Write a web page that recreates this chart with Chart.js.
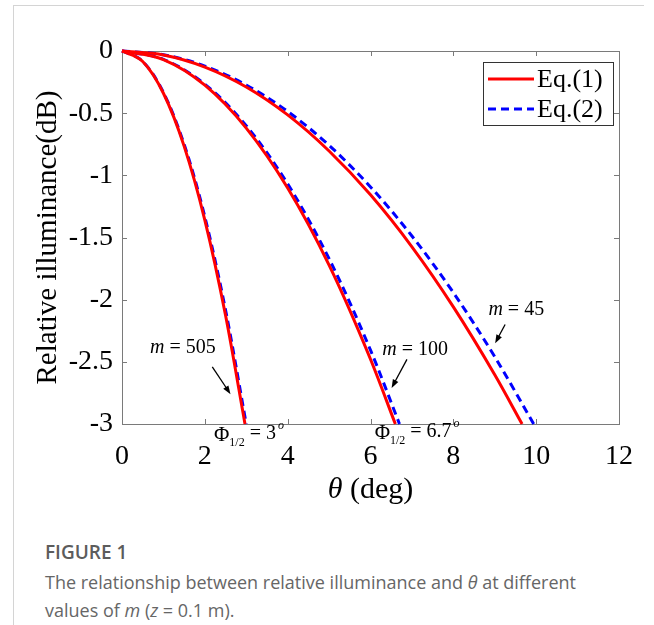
<!DOCTYPE html>
<html>
<head>
<meta charset="utf-8">
<script src="https://cdn.jsdelivr.net/npm/chart.js@4.4.1/dist/chart.umd.min.js"></script>
<style>
  html, body { margin: 0; padding: 0; background: #fff; }
  #wrap { position: relative; width: 654px; height: 625px; overflow: hidden; }
  #frame { position: absolute; left: 13px; top: 5px; width: 630px; height: 640px;
           border-left: 1px solid #d4d4d4; border-top: 1px solid #d4d4d4; }
  #chart { position: absolute; left: 0; top: 0; }
  .fig { position: absolute; left: 45px; top: 540px; font: 600 19px/24px 'Open Sans', sans-serif; color: #5c5c5c; }
  .cap { position: absolute; left: 45px; top: 568px; font: 400 18px/28px 'Open Sans', sans-serif; color: #666; }
</style>
</head>
<body>
<div id="wrap">
  <div id="frame"></div>
  <canvas id="chart" width="654" height="520"></canvas>
  <div class="fig">FIGURE 1</div>
  <div class="cap">The relationship between relative illuminance and <i>θ</i> at different<br>values of <i>m</i> (<i>z</i> = 0.1 m).</div>
</div>
<script>
// series names (legend)
const seriesNames = ['Eq.(1)', 'Eq.(2)'];
const seriesColors = ['#ff0000', '#0000ff'];

// m = 505
const theta505Eq1 = [0, 0.5, 1, 1.5, 2, 2.5, 2.97];
const loss505Eq1 = [0, -0.085, -0.340, -0.765, -1.360, -2.126, -3];
const theta505Eq2 = [0, 0.5, 1, 1.5, 2, 2.5, 3.0];
const loss505Eq2 = [0, -0.083, -0.333, -0.750, -1.333, -2.083, -3];

// m = 100
const theta100Eq1 = [0, 1, 2, 3, 4, 5, 6, 6.6];
const loss100Eq1 = [0, -0.069, -0.275, -0.620, -1.102, -1.722, -2.479, -3];
const theta100Eq2 = [0, 1, 2, 3, 4, 5, 6, 6.7];
const loss100Eq2 = [0, -0.067, -0.267, -0.601, -1.069, -1.671, -2.406, -3];

// m = 45
const theta45Eq1 = [0, 1, 2, 3, 4, 5, 6, 7, 8, 9, 9.66];
const loss45Eq1 = [0, -0.032, -0.129, -0.289, -0.514, -0.804, -1.157, -1.575, -2.058, -2.604, -3];
const theta45Eq2 = [0, 1, 2, 3, 4, 5, 6, 7, 8, 9, 9.94];
const loss45Eq2 = [0, -0.030, -0.121, -0.273, -0.486, -0.759, -1.093, -1.488, -1.943, -2.459, -3];

// annotation labels: text position and arrow (from -> to), in data units
const mLabels = ['505', '100', '45'];
const mLabelTheta = [1.47, 7.08, 9.52];
const mLabelLoss = [-2.39, -2.40, -2.08];
const arrowFromTheta = [2.18, 6.88, 9.25];
const arrowFromLoss = [-2.54, -2.48, -2.20];
const arrowToTheta = [2.62, 6.51, 9.01];
const arrowToLoss = [-2.76, -2.71, -2.35];

// half-angle labels under the axis
const phiValues = ['3', '6.7'];
const phiTheta = [2.22, 6.10];

function pts(xs, ys) {
  return xs.map((x, i) => ({ x: x, y: ys[i] }));
}

function line(xs, ys, k) {
  return {
    label: seriesNames[k],
    data: pts(xs, ys),
    borderColor: seriesColors[k],
    borderWidth: 3,
    borderDash: k === 1 ? [8, 5] : [],
    pointRadius: 0,
    cubicInterpolationMode: 'monotone',
    clip: 3
  };
}

const serif = "'Liberation Serif', 'Times New Roman', serif";

const decorPlugin = {
  id: 'decor',
  beforeDatasetsDraw(chart) {
    const { ctx, chartArea: a, scales } = chart;
    ctx.save();
    ctx.strokeStyle = '#7a7a7a';
    ctx.lineWidth = 1;
    ctx.strokeRect(a.left + 0.5, a.top + 0.5, a.right - a.left, a.bottom - a.top);
    ctx.beginPath();
    scales.x.ticks.forEach(t => {
      const px = Math.round(scales.x.getPixelForValue(t.value)) + 0.5;
      ctx.moveTo(px, a.bottom); ctx.lineTo(px, a.bottom - 5);
      ctx.moveTo(px, a.top); ctx.lineTo(px, a.top + 5);
    });
    scales.y.ticks.forEach(t => {
      const py = Math.round(scales.y.getPixelForValue(t.value)) + 0.5;
      ctx.moveTo(a.left, py); ctx.lineTo(a.left + 5, py);
      ctx.moveTo(a.right, py); ctx.lineTo(a.right - 5, py);
    });
    ctx.stroke();
    ctx.restore();
  },
  afterDatasetsDraw(chart) {
    const { ctx, chartArea: a, scales } = chart;
    const X = v => scales.x.getPixelForValue(v);
    const Y = v => scales.y.getPixelForValue(v);
    ctx.save();

    // legend
    const lx = 483, ly = 62, lw = 130, lh = 63;
    ctx.fillStyle = '#fff';
    ctx.fillRect(lx, ly, lw, lh);
    ctx.strokeStyle = '#333';
    ctx.lineWidth = 1;
    ctx.strokeRect(lx + 0.5, ly + 0.5, lw, lh);
    seriesNames.forEach((name, k) => {
      const yy = ly + 17 + k * 30;
      ctx.strokeStyle = seriesColors[k];
      ctx.lineWidth = 3;
      ctx.setLineDash(k === 1 ? [8, 5] : []);
      ctx.beginPath();
      ctx.moveTo(lx + 5, yy); ctx.lineTo(lx + 51, yy);
      ctx.stroke();
      ctx.setLineDash([]);
      ctx.fillStyle = '#000';
      ctx.font = '26px ' + serif;
      ctx.textBaseline = 'middle';
      ctx.textAlign = 'left';
      ctx.fillText(name, lx + 54, yy + 1);
    });

    // m = ... labels with arrows
    mLabels.forEach((m, i) => {
      const cx = X(mLabelTheta[i]), cy = Y(mLabelLoss[i]);
      ctx.font = 'italic 20px ' + serif;
      const w1 = ctx.measureText('m').width;
      ctx.font = '20px ' + serif;
      const rest = ' = ' + m;
      const w2 = ctx.measureText(rest).width;
      let x0 = cx - (w1 + w2) / 2;
      ctx.fillStyle = '#000';
      ctx.textBaseline = 'middle';
      ctx.textAlign = 'left';
      ctx.font = 'italic 20px ' + serif;
      ctx.fillText('m', x0, cy);
      ctx.font = '20px ' + serif;
      ctx.fillText(rest, x0 + w1, cy);

      const fx = X(arrowFromTheta[i]), fy = Y(arrowFromLoss[i]);
      const tx = X(arrowToTheta[i]), ty = Y(arrowToLoss[i]);
      const ang = Math.atan2(ty - fy, tx - fx);
      ctx.strokeStyle = '#000';
      ctx.lineWidth = 1.3;
      ctx.beginPath();
      ctx.moveTo(fx, fy); ctx.lineTo(tx - 5 * Math.cos(ang), ty - 5 * Math.sin(ang));
      ctx.stroke();
      ctx.beginPath();
      ctx.moveTo(tx, ty);
      ctx.lineTo(tx - 9 * Math.cos(ang - 0.35), ty - 9 * Math.sin(ang - 0.35));
      ctx.lineTo(tx - 9 * Math.cos(ang + 0.35), ty - 9 * Math.sin(ang + 0.35));
      ctx.closePath();
      ctx.fill();
    });

    // Phi_1/2 labels under the axis
    phiValues.forEach((v, i) => {
      let x0 = X(phiTheta[i]);
      const base = a.bottom + 17 - i * 2;
      ctx.fillStyle = '#000';
      ctx.textAlign = 'left';
      ctx.textBaseline = 'alphabetic';
      ctx.font = '21px ' + serif;
      ctx.fillText('Φ', x0, base);
      x0 += ctx.measureText('Φ').width;
      ctx.font = '12px ' + serif;
      ctx.fillText('1/2', x0, base + 5);
      x0 += ctx.measureText('1/2').width;
      ctx.font = '20px ' + serif;
      const t = ' = ' + v;
      ctx.fillText(t, x0, base - 2);
      x0 += ctx.measureText(t).width;
      ctx.font = 'italic 12px ' + serif;
      ctx.fillText('o', x0 + 2, base - 12);
    });

    // x axis title
    ctx.textBaseline = 'middle';
    const midX = (a.left + a.right) / 2;
    ctx.font = 'italic 30px ' + serif;
    const wt = ctx.measureText('θ').width;
    ctx.font = '30px ' + serif;
    const wd = ctx.measureText(' (deg)').width;
    let sx = midX - (wt + wd) / 2;
    ctx.font = 'italic 30px ' + serif;
    ctx.fillText('θ', sx, a.bottom + 66);
    ctx.font = '30px ' + serif;
    ctx.fillText(' (deg)', sx + wt, a.bottom + 66);

    ctx.restore();
  }
};

new Chart(document.getElementById('chart'), {
  type: 'line',
  data: {
    datasets: [
      line(theta505Eq1, loss505Eq1, 0),
      line(theta100Eq1, loss100Eq1, 0),
      line(theta45Eq1, loss45Eq1, 0),
      line(theta505Eq2, loss505Eq2, 1),
      line(theta100Eq2, loss100Eq2, 1),
      line(theta45Eq2, loss45Eq2, 1)
    ]
  },
  options: {
    responsive: false,
    animation: false,
    events: [],
    layout: { padding: { left: 0, top: 51, right: 35, bottom: 0 } },
    plugins: { legend: { display: false }, tooltip: { enabled: false } },
    scales: {
      x: {
        type: 'linear', min: 0, max: 12,
        grid: { display: false, drawTicks: false },
        border: { display: false },
        ticks: { stepSize: 2, padding: 16, color: '#000', font: { family: serif, size: 28 } },
        afterFit(scale) { scale.height = 96; }
      },
      y: {
        type: 'linear', min: -3, max: 0,
        grid: { display: false, drawTicks: false },
        border: { display: false },
        ticks: { stepSize: 0.5, padding: 9, color: '#000', font: { family: serif, size: 28 },
                 callback: v => String(Math.round(v * 10) / 10) },
        title: { display: true, text: 'Relative illuminance(dB)', color: '#000',
                 font: { family: serif, size: 29 }, padding: { top: 31, bottom: 0 } },
        afterFit(scale) { scale.width = 122; }
      }
    }
  },
  plugins: [decorPlugin]
});
</script>
</body>
</html>
